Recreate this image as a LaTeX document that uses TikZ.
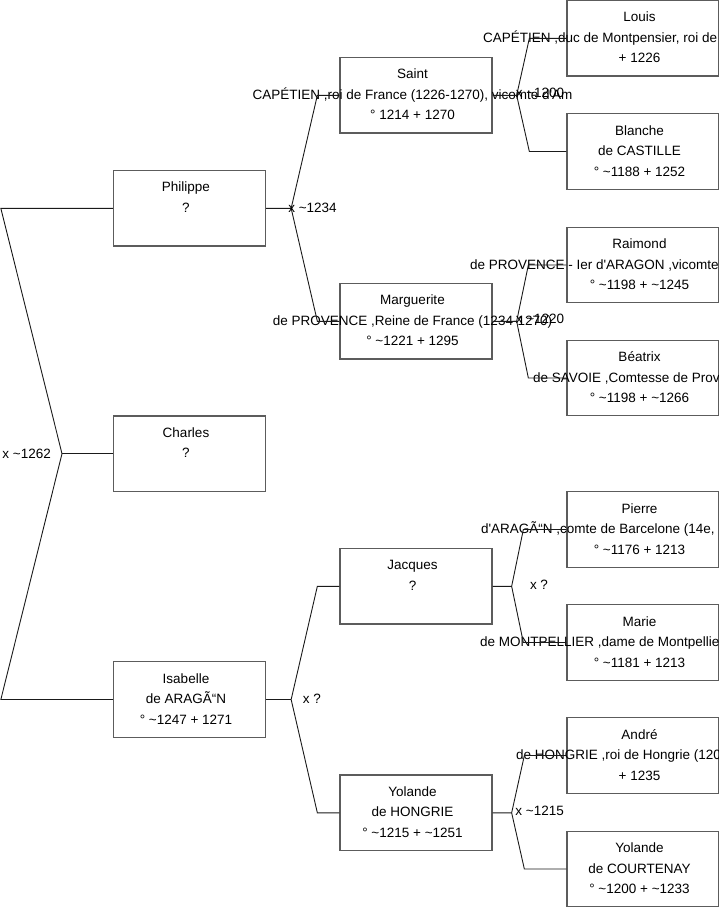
\documentclass[tikz,border=0pt]{standalone}
\usepackage{fontspec}
\setmainfont{Liberation Sans}
\usetikzlibrary{calc}
\definecolor{boxline}{HTML}{5C5C5C}
\definecolor{linkline}{HTML}{1A1A1A}
% one centred line of a person box (no width of its own)
\newcommand\nm[1]{\makebox[0pt]{#1\kern7pt}\strut}
\newcommand\who[3]{\nm{#1}\\\nm{#2}\\\nm{#3}}
% same, with a middle line that runs off the right edge
\newcommand\whocut[4]{\nm{#2}\\\makebox[0pt][l]{\kern-#1pt #3}\strut\\\nm{#4}}
\newcommand\ap{\textquotesingle}
\newcommand\tl{\textasciitilde}

\begin{document}
\begin{tikzpicture}[x=1pt, y=-1pt,
  person/.style={draw=boxline, line width=1.3pt, minimum width=152pt, minimum height=75.5pt, inner sep=0pt, align=center, font=\fontsize{13.5}{20.5}\selectfont},
  link/.style={draw=linkline, line width=0.9pt},
  wed/.style={inner sep=0pt, font=\fontsize{13.5}{16}\selectfont}]
\useasboundingbox (0,0) rectangle (719,908);
% children
\node[person] (phil)    at (189.5,208.3) {\who{Philippe}{?}{}};
\node[person] (charles) at (189.5,453.7) {\who{Charles}{?}{}};
\node[person] (isa)     at (189.5,699.5) {\who{Isabelle}{de ARAGÃ“N}{° \tl1247 + 1271}};
% parents
\node[person] (saint) at (416,95.3)  {\who{Saint}{CAPÉTIEN ,roi de France (1226-1270), vicomte d\ap Am}{° 1214 + 1270}};
\node[person] (marg)  at (416,321.3) {\who{Marguerite}{de PROVENCE ,Reine de France (1234-1270)}{° \tl1221 + 1295}};
\node[person] (jac)   at (416,586.3) {\who{Jacques}{?}{}};
\node[person] (yolh)  at (416,812.8) {\who{Yolande}{de HONGRIE}{° \tl1215 + \tl1251}};
% grandparents
\node[person] (louis) at (643,38.3)  {\whocut{160}{Louis}{CAPÉTIEN ,duc de Montpensier, roi de}{+ 1226}};
\node[person] (blan)  at (643,151.5) {\who{Blanche}{de CASTILLE}{° \tl1188 + 1252}};
\node[person] (raim)  at (643,265)   {\whocut{173}{Raimond}{de PROVENCE - Ier d\ap ARAGON ,vicomte}{° \tl1198 + \tl1245}};
\node[person] (bea)   at (643,378)   {\whocut{110}{Béatrix}{de SAVOIE ,Comtesse de Prov}{° \tl1198 + \tl1266}};
\node[person] (pier)  at (643,529.5) {\whocut{162}{Pierre}{d\ap ARAGÃ“N ,comte de Barcelone (14e,}{° \tl1176 + 1213}};
\node[person] (marie) at (643,642.5) {\whocut{163}{Marie}{de MONTPELLIER ,dame de Montpellie}{° \tl1181 + 1213}};
\node[person] (andre) at (643,755.5) {\whocut{127}{André}{de HONGRIE ,roi de Hongrie (120}{+ 1235}};
\node[person] (yolc)  at (643,869)   {\who{Yolande}{de COURTENAY}{° \tl1200 + \tl1233}};
% forks
\coordinate (f0) at (62,453.7);
\draw[link] (phil.west) -- ++(-112,0) -- (f0) -- ([xshift=-112pt]isa.west) -- (isa.west);
\draw[link] (charles.west) -- (f0);
\foreach \kid/\dad/\mum/\s/\t in {phil/saint/marg/25/22, isa/jac/yolh/25/22, saint/louis/blan/24/37, marg/raim/bea/24/38, jac/pier/marie/19/43, yolh/andre/yolc/19/42}
  \draw[link] (\dad.west) -- ++(-\t,0) -- ([xshift=\s pt]\kid.east) -- (\kid.east)
    ([xshift=\s pt]\kid.east) -- ([xshift=-\t pt]\mum.west) -- (\mum.west);
% marriages
\node[wed] (w0) at (26.7,453.5) {x \tl1262};
\node[wed] (w1) at (312.5,207.5) {x \tl1234};
\node[wed] (w2) at (312,699) {x ?};
\node[wed] (w3) at (540,93) {x \tl1200};
\node[wed] (w4) at (540,318.5) {x \tl1220};
\node[wed] (w5) at (539,585) {x ?};
\node[wed] (w6) at (539.7,811) {x \tl1215};
\end{tikzpicture}
\end{document}
